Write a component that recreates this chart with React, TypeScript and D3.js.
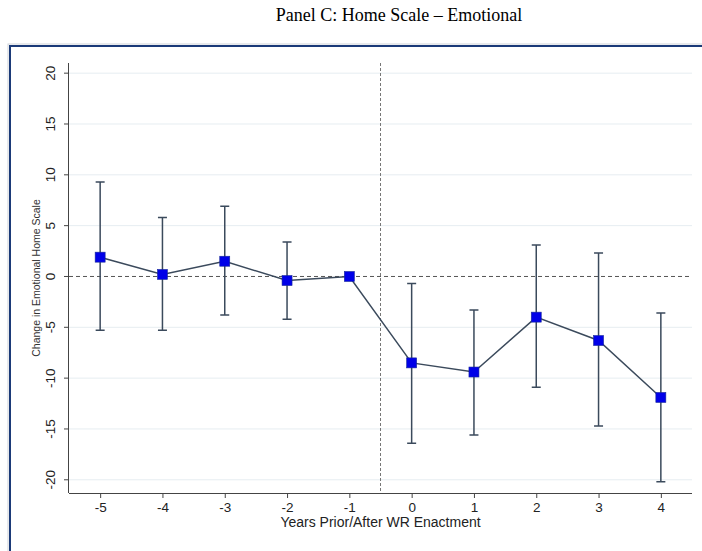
import { axisBottom, axisLeft, line, scaleLinear, select } from 'd3';
import React, { useEffect, useRef } from 'react';

const years = [-5, -4, -3, -2, -1, 0, 1, 2, 3, 4];
const estimates = [1.9, 0.2, 1.5, -0.4, 0, -8.5, -9.4, -4.0, -6.3, -11.9];
const ciLow = [-5.3, -5.3, -3.8, -4.2, null, -16.4, -15.6, -10.9, -14.7, -20.2];
const ciHigh = [9.3, 5.8, 6.9, 3.4, null, -0.7, -3.3, 3.1, 2.3, -3.6];
const yTicks = [-20, -15, -10, -5, 0, 5, 10, 15, 20];

const W = 702;
const H = 551;
const plot = { left: 69, right: 692, top: 63, bottom: 493 };
const lineColor = '#3b4a5c';

function App() {
  const svgRef = useRef<SVGSVGElement>(null);

  useEffect(() => {
    const svg = select(svgRef.current);
    svg.selectAll('*').remove();

    const x = scaleLinear().domain([-5.5, 4.5]).range([plot.left, plot.right]);
    const y = scaleLinear().domain([-21.3, 21]).range([plot.bottom, plot.top]);

    // title above the frame
    svg
      .append('text')
      .attr('x', 399)
      .attr('y', 21)
      .attr('text-anchor', 'middle')
      .attr('font-family', '"Liberation Serif", "Times New Roman", serif')
      .attr('font-size', 18)
      .text('Panel C: Home Scale \u2013 Emotional');

    // navy frame, runs off the right and bottom edge
    svg
      .append('rect')
      .attr('x', 8)
      .attr('y', 44)
      .attr('width', W)
      .attr('height', H)
      .attr('fill', 'none')
      .attr('stroke', '#d0d4da')
      .attr('stroke-width', 1);
    svg
      .append('rect')
      .attr('x', 10)
      .attr('y', 46)
      .attr('width', W)
      .attr('height', H)
      .attr('fill', 'white')
      .attr('stroke', '#1b3a78')
      .attr('stroke-width', 2);

    // gridlines
    svg
      .append('g')
      .selectAll('line')
      .data(yTicks.filter(t => t !== 0))
      .join('line')
      .attr('x1', plot.left)
      .attr('x2', plot.right)
      .attr('y1', d => y(d))
      .attr('y2', d => y(d))
      .attr('stroke', '#e6edf1')
      .attr('stroke-width', 1);

    // reference lines
    svg
      .append('line')
      .attr('x1', plot.left)
      .attr('x2', plot.right)
      .attr('y1', y(0))
      .attr('y2', y(0))
      .attr('stroke', '#555')
      .attr('stroke-dasharray', '4,3');
    svg
      .append('line')
      .attr('x1', x(-0.5))
      .attr('x2', x(-0.5))
      .attr('y1', plot.top)
      .attr('y2', plot.bottom)
      .attr('stroke', '#777')
      .attr('stroke-dasharray', '3,2');

    // axes
    const xAxis = axisBottom(x).tickValues(years).tickSize(5).tickPadding(4).tickFormat(d => String(d));
    const gx = svg.append('g').attr('transform', `translate(0,${plot.bottom})`).call(xAxis);
    gx.select('.domain').attr('stroke', '#444').attr('d', `M${plot.left},0.5H${plot.right}`);
    gx.selectAll('line').attr('stroke', '#444');
    gx.selectAll('text')
      .attr('font-family', '"Liberation Sans", Arial, sans-serif')
      .attr('font-size', 13.5)
      .attr('fill', '#222');

    const yAxis = axisLeft(y).tickValues(yTicks).tickSize(5).tickFormat(d => String(d));
    const gy = svg.append('g').attr('transform', `translate(${plot.left},0)`).call(yAxis);
    gy.select('.domain').attr('stroke', '#444').attr('d', `M-0.5,${plot.top}V${plot.bottom}`);
    gy.selectAll('line').attr('stroke', '#444');
    gy.selectAll('text')
      .attr('font-family', '"Liberation Sans", Arial, sans-serif')
      .attr('font-size', 13.5)
      .attr('fill', '#222')
      .attr('x', 0)
      .attr('y', 0)
      .attr('dy', null)
      .attr('text-anchor', 'middle')
      .attr('dominant-baseline', 'central')
      .attr('transform', d => `translate(-19,${y(d as number)}) rotate(-90)`);
    gy.selectAll('.tick').attr('transform', null);
    gy.selectAll('.tick line').attr('transform', d => `translate(0,${y(d as number)})`);

    // axis titles
    svg
      .append('text')
      .attr('x', (plot.left + plot.right) / 2)
      .attr('y', 527)
      .attr('text-anchor', 'middle')
      .attr('font-family', '"Liberation Sans", Arial, sans-serif')
      .attr('font-size', 14)
      .attr('fill', '#222')
      .text('Years Prior/After WR Enactment');
    svg
      .append('text')
      .attr('transform', `translate(36,${(plot.top + plot.bottom) / 2}) rotate(-90)`)
      .attr('text-anchor', 'middle')
      .attr('dominant-baseline', 'central')
      .attr('font-family', '"Liberation Sans", Arial, sans-serif')
      .attr('font-size', 10.5)
      .attr('fill', '#333')
      .text('Change in Emotional Home Scale');

    // confidence intervals
    const ci = years.map((yr, i) => ({ yr, lo: ciLow[i], hi: ciHigh[i] })).filter(d => d.lo !== null);
    const gci = svg.append('g').attr('stroke', lineColor).attr('stroke-width', 1.5).attr('fill', 'none');
    gci
      .selectAll('path')
      .data(ci)
      .join('path')
      .attr('d', d => {
        const cx = x(d.yr);
        const y1 = y(d.hi as number);
        const y2 = y(d.lo as number);
        return `M${cx - 4.5},${y1}H${cx + 4.5}M${cx},${y1}V${y2}M${cx - 4.5},${y2}H${cx + 4.5}`;
      });

    // connecting line
    const pts = years.map((yr, i) => [yr, estimates[i]] as [number, number]);
    svg
      .append('path')
      .datum(pts)
      .attr('fill', 'none')
      .attr('stroke', lineColor)
      .attr('stroke-width', 1.5)
      .attr('d', line().x(d => x(d[0])).y(d => y(d[1])));

    // markers
    svg
      .append('g')
      .selectAll('rect')
      .data(pts)
      .join('rect')
      .attr('x', d => x(d[0]) - 5)
      .attr('y', d => y(d[1]) - 5)
      .attr('width', 10)
      .attr('height', 10)
      .attr('fill', '#0000e8')
      .attr('stroke', '#1a2a9a')
      .attr('stroke-width', 0.6);
  }, []);

  return (
    <svg
      ref={svgRef}
      width={W}
      height={H}
      style={{ position: 'absolute', left: 0, top: 0, background: 'white', display: 'block' }}
    />
  );
}

export default App;
